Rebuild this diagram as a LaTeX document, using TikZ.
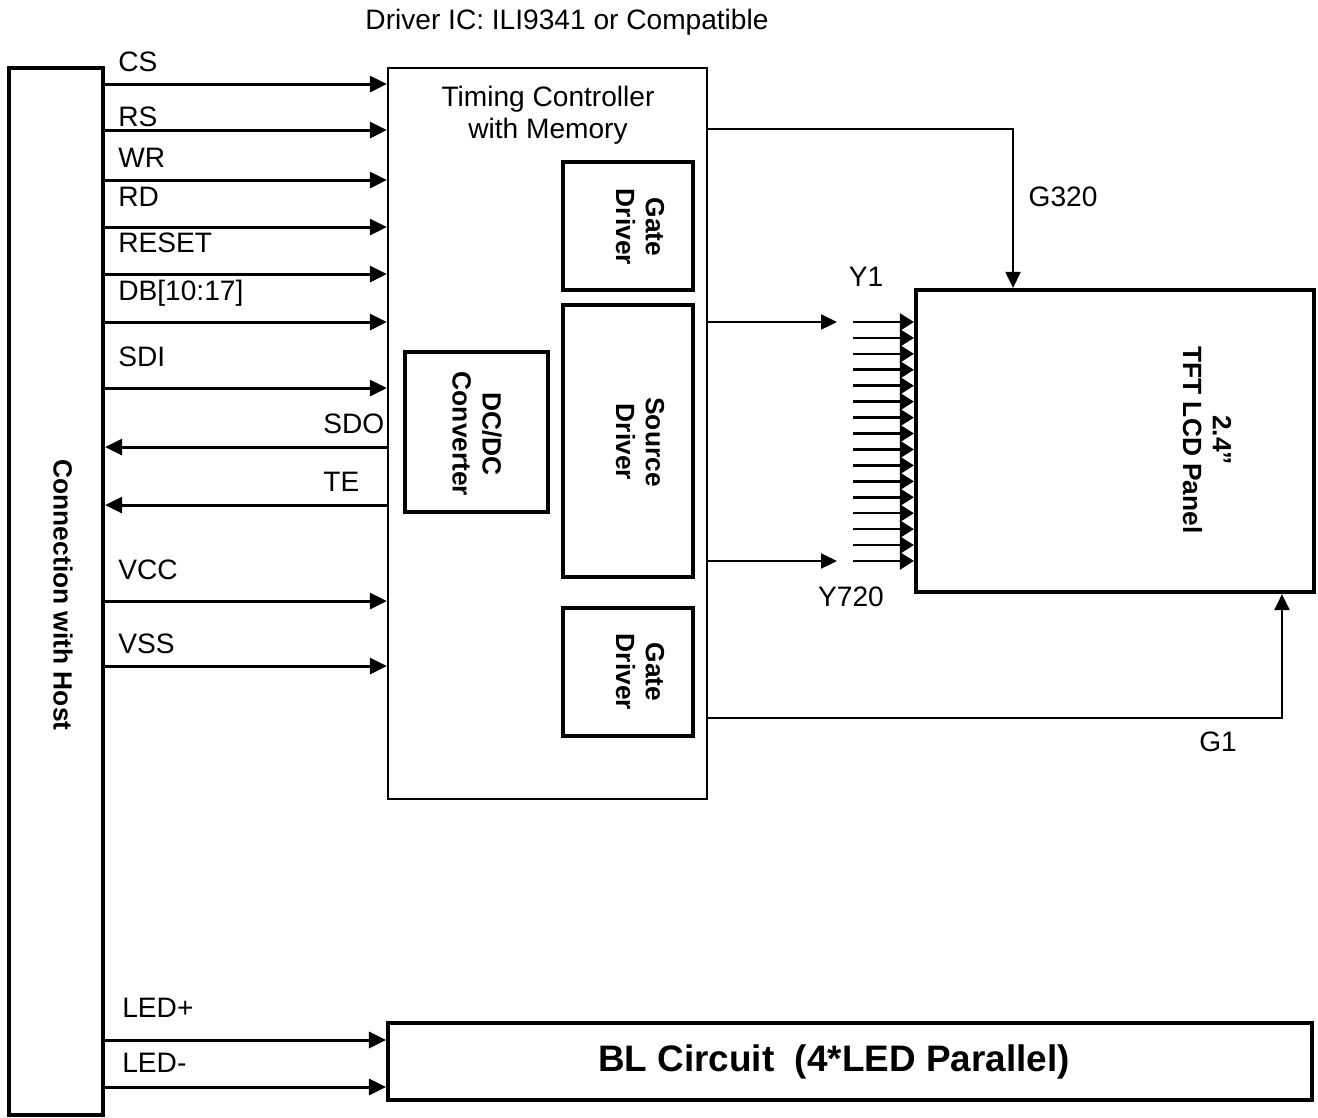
\documentclass[tikz,border=0pt]{standalone}
\usepackage{fontspec}
\setmainfont{Liberation Sans}
\usetikzlibrary{arrows.meta,positioning}
\newcommand\lblfont{\fontsize{16}{18.5}\selectfont}
\newcommand\boldfont{\bfseries\fontsize{15}{17}\selectfont}
\tikzset{
  hostbox/.style={draw,line width=2.4pt,minimum width=1.88cm,
    minimum height=20.94cm,inner sep=0pt},
  ctrlbox/.style={draw,line width=1.3pt,minimum width=6.38cm,
    minimum height=14.62cm,inner sep=0pt},
  blockbox/.style={draw,line width=2.2pt,inner sep=0pt},
  panelbox/.style={draw,line width=2.4pt,inner sep=0pt},
  txt/.style={font=\lblfont,inner sep=0pt},
  lbl/.style={txt,anchor=west},
  vtext/.style={font=\boldfont,rotate=-90,align=center,inner sep=0pt},
  sig/.style={line width=1.7pt,-{Triangle[length=0.34cm,width=0.32cm]}},
  wire/.style={line width=1.2pt,-{Triangle[length=0.32cm,width=0.3cm]}},
  fan/.style={line width=1.5pt,-{Triangle[length=0.28cm,width=0.34cm]}}
}

\begin{document}
\begin{tikzpicture}[x=0.02cm,y=-0.02cm]
  \useasboundingbox (0,0) rectangle (1318,1117);
  % blocks
  \node[hostbox] (host) at (56,591.5) {};
  \node[ctrlbox] (tcon) at (547.5,433.5) {};
  \node[blockbox,minimum width=2.6cm,minimum height=2.56cm] (gdtop) at (628,226) {};
  \node[blockbox,minimum width=2.6cm,minimum height=5.44cm] (sd) at (628,441) {};
  \node[blockbox,minimum width=2.6cm,minimum height=2.56cm] (gdbot) at (628,672) {};
  \node[blockbox,minimum width=2.86cm,minimum height=3.2cm] (dcdc) at (476.5,432) {};
  \node[panelbox,minimum width=7.96cm,minimum height=6.04cm] (panel) at (1115,441) {};
  \node[panelbox,minimum width=18.48cm,minimum height=1.54cm] (bl) at (850,1061.5) {};

  % texts in the blocks
  \node[txt] (title) at (567,22) {Driver IC: ILI9341 or Compatible};
  \node[txt,align=center] (tcontxt) at (548,115) {Timing Controller\\with Memory};
  \node[vtext] (hosttxt) at (63,595) {Connection with Host};
  \node[vtext] (gdtoptxt) at (640,227) {Gate\\Driver};
  \node[vtext] (sdtxt) at (640,442) {Source\\Driver};
  \node[vtext] (gdbottxt) at (640,672) {Gate\\Driver};
  \node[vtext] (dcdctxt) at (477,434) {DC/DC\\Converter};
  \node[vtext] (paneltxt) at (1207,440) {2.4”\\TFT LCD Panel};
  \node[font=\bfseries\fontsize{21}{25}\selectfont,inner sep=0pt] (bltxt)
    at (834,1062) {BL Circuit\ \ (4*LED Parallel)};

  % host to controller
  \foreach \y/\ly/\lab [count=\i] in {84/62/CS,130/117/RS,180/158/WR,
      227/197/RD,274/243/RESET,322/293/{DB[10:17]},388/357/SDI,
      601/570/VCC,666/644/VSS}{
    \draw[sig] (host.east |- 0,\y) -- (tcon.west |- 0,\y);
    \node[lbl] (in\i) at (118,\ly) {\lab};
  }
  % controller to host
  \foreach \y/\ly/\lab [count=\i] in {447/424/SDO,505/482/TE}{
    \draw[sig] (tcon.west |- 0,\y) -- (host.east |- 0,\y);
    \node[lbl] (out\i) at (323,\ly) {\lab};
  }
  % backlight
  \foreach \y/\ly/\lab [count=\i] in {1040/1008/LED+,1087/1063/LED-}{
    \draw[sig] (host.east |- 0,\y) -- (bl.west |- 0,\y);
    \node[lbl] (led\i) at (122,\ly) {\lab};
  }

  % source lines
  \coordinate (s1) at (837,322);
  \coordinate (s720) at (837,561);
  \draw[wire] (tcon.east |- s1) -- (s1);
  \draw[wire] (tcon.east |- s720) -- (s720);
  \foreach \k in {0,...,15}{
    \coordinate (y\k) at (853,{322+15.93*\k});
    \draw[fan] (y\k) -- (panel.west |- y\k);
  }
  \node[txt] (ly1) at (866,277) {Y1};
  \node[txt] (ly720) at (851,597) {Y720};

  % gate lines
  \draw[wire] (tcon.east |- 0,129) -| ([xshift=-2.04cm]panel.north);
  \draw[wire] (tcon.east |- 0,718) -| ([xshift=3.34cm]panel.south);
  \node[txt] (lg320) at (1063,197) {G320};
  \node[txt] (lg1) at (1218,742) {G1};
\end{tikzpicture}
\end{document}
